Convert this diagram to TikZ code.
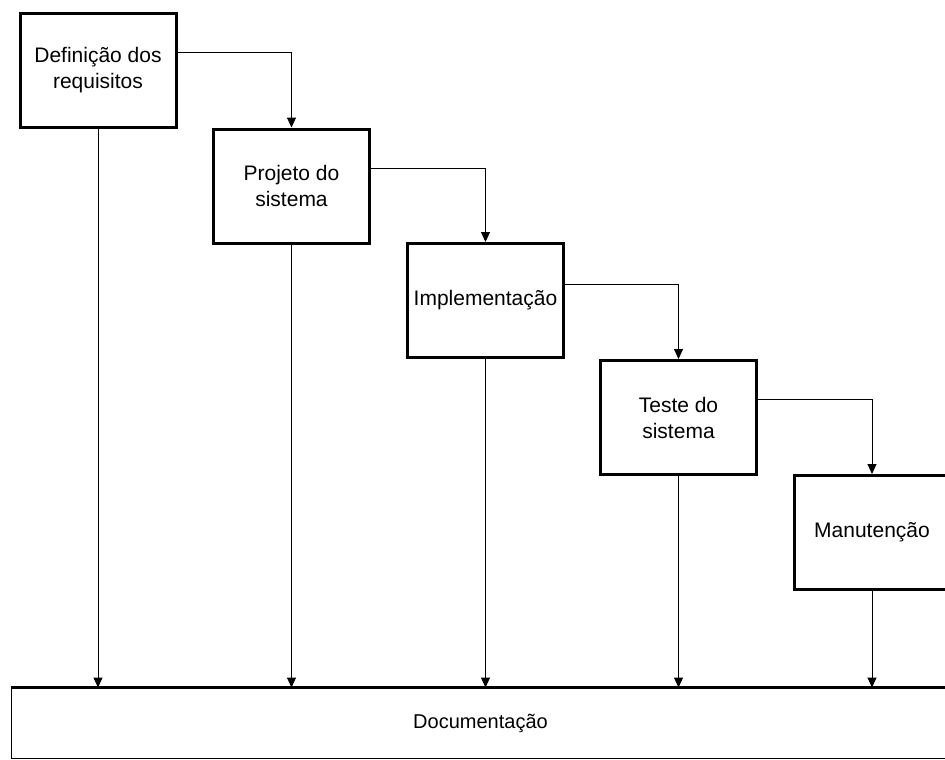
\documentclass[tikz,border=0pt]{standalone}
\usepackage{fontspec}
\setmainfont{Liberation Sans}
\usetikzlibrary{arrows.meta}
\begin{document}
\begin{tikzpicture}[x=1pt,y=-1pt,
  phase/.style={draw=black,line width=3pt,minimum width=156pt,minimum height=114pt,
    inner sep=0pt,align=center,font=\fontsize{21}{26}\selectfont},
  docbox/.style={draw=black,line width=1pt,minimum width=939pt,minimum height=70pt,
    inner sep=0pt,font=\fontsize{20}{26}\selectfont},
  conn/.style={line width=1pt,-{Triangle[width=9pt,length=10pt]}}]
\useasboundingbox (0,0) rectangle (945,760);
\node[phase] (b1) at (98,70.5) {Definição dos\\requisitos};
\node[phase] (b2) at (291.5,186) {Projeto do\\sistema};
\node[phase] (b3) at (485.5,300.5) {Implementação};
\node[phase] (b4) at (678.5,417.5) {Teste do\\sistema};
\node[phase] (b5) at (872,532.5) {Manutenção};
\node[docbox] (doc) at (480.5,723) {Documentação};
\draw[line width=3pt] (doc.north west) -- (doc.north east);
\draw[conn] ([yshift=18pt]b1.east) -| (b2.north);
\draw[conn] ([yshift=18pt]b2.east) -| (b3.north);
\draw[conn] ([yshift=16pt]b3.east) -| (b4.north);
\draw[conn] ([yshift=18pt]b4.east) -| (b5.north);
\foreach \b in {b1,b2,b3,b4,b5}
  \draw[conn] (\b.south) -- (\b.south |- doc.north);
\end{tikzpicture}
\end{document}
